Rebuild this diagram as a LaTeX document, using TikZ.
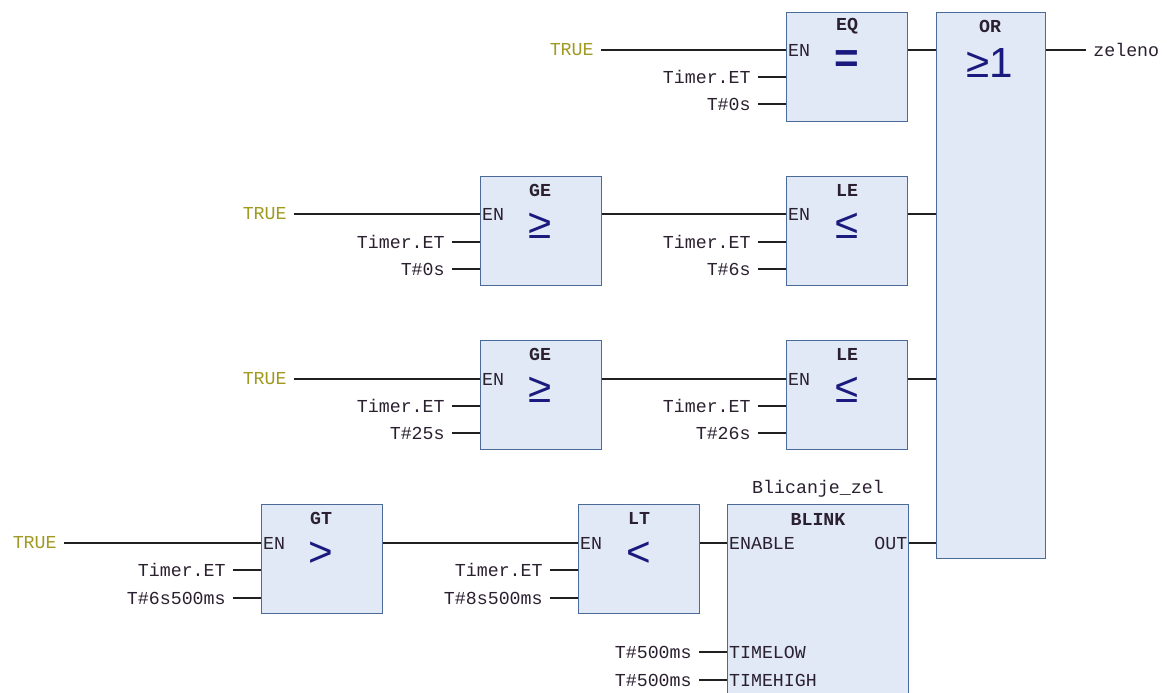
\documentclass[tikz,border=0pt]{standalone}
\usepackage{fontspec}
\usepackage{xcolor}
\usepackage{tikz}
\setmonofont{Liberation Mono}
\newfontfamily\symfont{Liberation Sans}
\definecolor{BoxFill}{HTML}{E1E9F6}
\definecolor{BoxBorder}{HTML}{4C6A98}
\definecolor{LabelText}{HTML}{2B2030}
\definecolor{TrueOlive}{HTML}{A09A22}
\definecolor{SymBlue}{HTML}{1A1A7E}
\definecolor{WireColor}{HTML}{202020}

\tikzset{
  fb/.style={draw=BoxBorder, fill=BoxFill, line width=0.8pt, anchor=north west,
             inner sep=0, minimum width=2.42cm, minimum height=2.18cm},
  lbl/.style={font=\ttfamily\fontsize{10.4}{12}\selectfont, text=LabelText,
              anchor=east, inner xsep=4pt, inner ysep=0},
  trueval/.style={lbl, text=TrueOlive},
  pinname/.style={font=\ttfamily\fontsize{10.4}{12}\selectfont, text=LabelText,
                  anchor=west, inner xsep=1pt, inner ysep=0},
  fbtitle/.style={font=\ttfamily\bfseries\fontsize{10.4}{12}\selectfont, text=LabelText},
  opsym/.style={font=\symfont\fontsize{24}{26}\selectfont, text=SymBlue},
  wire/.style={draw=WireColor, line width=0.75pt}
}

\begin{document}
\begin{tikzpicture}[x=0.02cm, y=-0.02cm]
                \clip (0,0) rectangle (1167,693);
                \fill[white] (0,0) rectangle (1167,693);

                % function blocks
                \node[fb] (eq) at (786,12) {};
                \node[fb, minimum width=2.18cm, minimum height=10.92cm] (orgate) at (936,12) {};
                \node[fb] (ge1) at (480,176) {};
                \node[fb] (le1) at (786,176) {};
                \node[fb] (ge2) at (480,340) {};
                \node[fb] (le2) at (786,340) {};
                \node[fb] (gt) at (261,504) {};
                \node[fb] (lt) at (578,504) {};
                \node[fb, minimum width=3.62cm, minimum height=4.8cm] (blink) at (727,504) {};

                % titles and operators
                \node[fbtitle] at (847,26) {EQ};
                \node[opsym, font=\symfont\bfseries\fontsize{24}{26}\selectfont] at (847,62) {=};
                \node[fbtitle] at (990,26) {OR};
                \node[opsym] at (990,63) {≥1};
                \node[fbtitle] at (540,190) {GE};
                \node[opsym] at (540,226) {≥};
                \node[fbtitle] at (847,190) {LE};
                \node[opsym] at (847,226) {≤};
                \node[fbtitle] at (540,354) {GE};
                \node[opsym] at (540,390) {≥};
                \node[fbtitle] at (847,354) {LE};
                \node[opsym] at (847,390) {≤};
                \node[fbtitle] at (321,518) {GT};
                \node[opsym] at (321,554) {>};
                \node[fbtitle] at (639,518) {LT};
                \node[opsym] at (639,554) {<};
                \node[fbtitle] at (818,519) {BLINK};
                \node[lbl, anchor=center, inner xsep=0] at (818,489) {Blicanje\_zel};

                % row 1
                \node[trueval] (tr1) at (601,50) {TRUE};
                \node[lbl] (et1) at (758,77) {Timer.ET};
                \node[lbl] (tv1) at (758,104) {T\#0s};
                \node[pinname] at (tr1.east -| eq.west) {EN};
                \draw[wire] (tr1.east) -- (tr1.east -| eq.west);
                \draw[wire] (et1.east) -- (et1.east -| eq.west);
                \draw[wire] (tv1.east) -- (tv1.east -| eq.west);
                \draw[wire] (tr1.east -| eq.east) -- (tr1.east -| orgate.west);
                \node[lbl, anchor=west] (zeleno) at (1086,50) {zeleno};
                \draw[wire] (zeleno.west -| orgate.east) -- (zeleno.west);

                % row 2
                \node[trueval] (tr2) at (294,214) {TRUE};
                \node[lbl] (et2) at (452,242) {Timer.ET};
                \node[lbl] (tv2) at (452,269) {T\#0s};
                \node[lbl] (et3) at (758,242) {Timer.ET};
                \node[lbl] (tv3) at (758,269) {T\#6s};
                \node[pinname] at (tr2.east -| ge1.west) {EN};
                \node[pinname] at (tr2.east -| le1.west) {EN};
                \draw[wire] (tr2.east) -- (tr2.east -| ge1.west);
                \draw[wire] (et2.east) -- (et2.east -| ge1.west);
                \draw[wire] (tv2.east) -- (tv2.east -| ge1.west);
                \draw[wire] (tr2.east -| ge1.east) -- (tr2.east -| le1.west);
                \draw[wire] (et3.east) -- (et3.east -| le1.west);
                \draw[wire] (tv3.east) -- (tv3.east -| le1.west);
                \draw[wire] (tr2.east -| le1.east) -- (tr2.east -| orgate.west);

                % row 3
                \node[trueval] (tr3) at (294,379) {TRUE};
                \node[lbl] (et4) at (452,406) {Timer.ET};
                \node[lbl] (tv4) at (452,433) {T\#25s};
                \node[lbl] (et5) at (758,406) {Timer.ET};
                \node[lbl] (tv5) at (758,433) {T\#26s};
                \node[pinname] at (tr3.east -| ge2.west) {EN};
                \node[pinname] at (tr3.east -| le2.west) {EN};
                \draw[wire] (tr3.east) -- (tr3.east -| ge2.west);
                \draw[wire] (et4.east) -- (et4.east -| ge2.west);
                \draw[wire] (tv4.east) -- (tv4.east -| ge2.west);
                \draw[wire] (tr3.east -| ge2.east) -- (tr3.east -| le2.west);
                \draw[wire] (et5.east) -- (et5.east -| le2.west);
                \draw[wire] (tv5.east) -- (tv5.east -| le2.west);
                \draw[wire] (tr3.east -| le2.east) -- (tr3.east -| orgate.west);

                % row 4
                \node[trueval] (tr4) at (64,543) {TRUE};
                \node[lbl] (et6) at (233,570) {Timer.ET};
                \node[lbl] (tv6) at (233,598) {T\#6s500ms};
                \node[lbl] (et7) at (550,570) {Timer.ET};
                \node[lbl] (tv7) at (550,598) {T\#8s500ms};
                \node[lbl] (tlow) at (699,652) {T\#500ms};
                \node[lbl] (thigh) at (699,680) {T\#500ms};
                \node[pinname] at (tr4.east -| gt.west) {EN};
                \node[pinname] at (tr4.east -| lt.west) {EN};
                \node[pinname] at (tr4.east -| blink.west) {ENABLE};
                \node[pinname] at (tlow.east -| blink.west) {TIMELOW};
                \node[pinname] at (thigh.east -| blink.west) {TIMEHIGH};
                \node[pinname, anchor=east] at (tr4.east -| blink.east) {OUT};
                \draw[wire] (tr4.east) -- (tr4.east -| gt.west);
                \draw[wire] (et6.east) -- (et6.east -| gt.west);
                \draw[wire] (tv6.east) -- (tv6.east -| gt.west);
                \draw[wire] (tr4.east -| gt.east) -- (tr4.east -| lt.west);
                \draw[wire] (et7.east) -- (et7.east -| lt.west);
                \draw[wire] (tv7.east) -- (tv7.east -| lt.west);
                \draw[wire] (tr4.east -| lt.east) -- (tr4.east -| blink.west);
                \draw[wire] (tlow.east) -- (tlow.east -| blink.west);
                \draw[wire] (thigh.east) -- (thigh.east -| blink.west);
                \draw[wire] (tr4.east -| blink.east) -- (tr4.east -| orgate.west);
            \end{tikzpicture}
\end{document}
